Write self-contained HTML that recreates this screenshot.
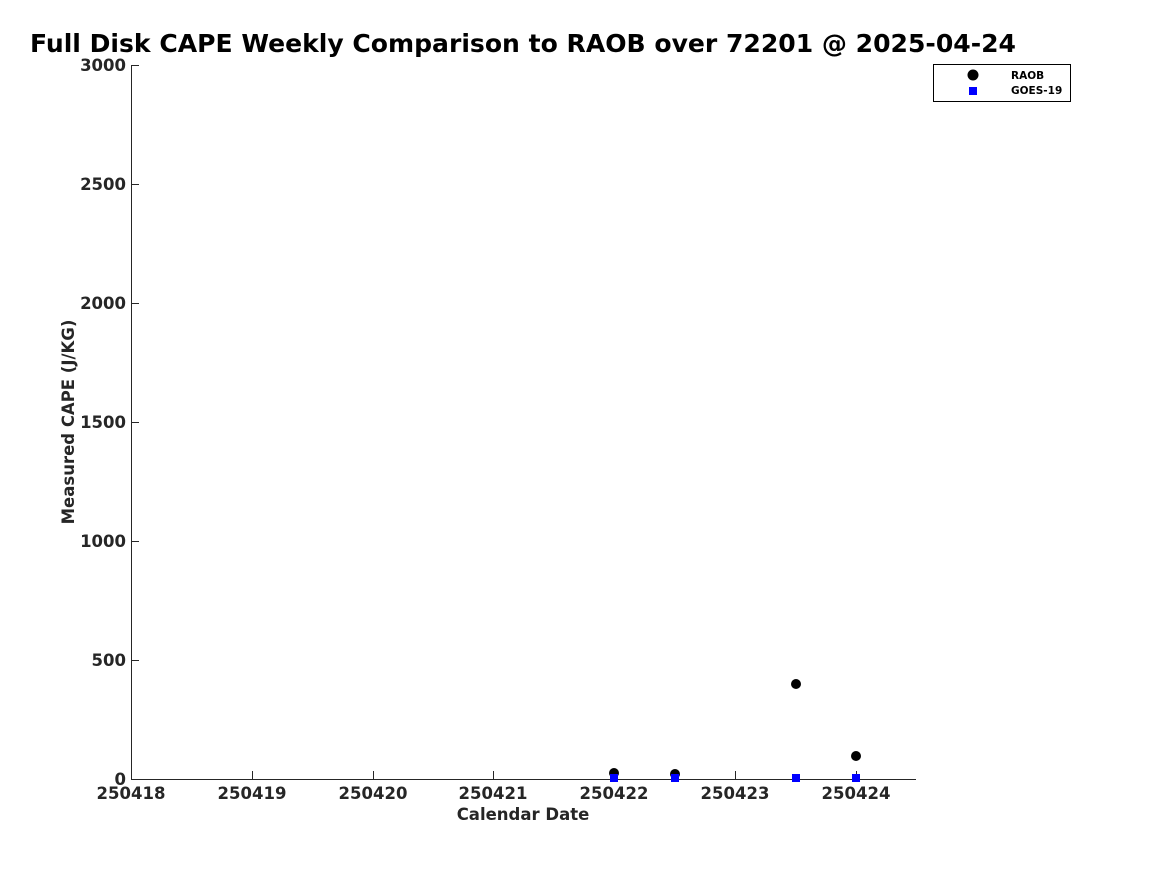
<!DOCTYPE html>
<html><head><style>body{margin:0;background:#fff}</style></head><body>
<svg width="1167" height="875" xmlns="http://www.w3.org/2000/svg" font-family="DejaVu Sans, Liberation Sans, sans-serif" font-weight="bold">
<text x="30" y="52" font-size="25" fill="#000" textLength="986" lengthAdjust="spacingAndGlyphs">Full Disk CAPE Weekly Comparison to RAOB over 72201 @ 2025-04-24</text>
<g stroke="#262626" stroke-width="1" fill="none">
<line x1="131.5" y1="65" x2="131.5" y2="779.5"/>
<line x1="131" y1="779.5" x2="916" y2="779.5"/>
<line x1="131" y1="65.5" x2="139" y2="65.5"/>
<line x1="131" y1="184.5" x2="139" y2="184.5"/>
<line x1="131" y1="303.5" x2="139" y2="303.5"/>
<line x1="131" y1="422.5" x2="139" y2="422.5"/>
<line x1="131" y1="541.5" x2="139" y2="541.5"/>
<line x1="131" y1="660.5" x2="139" y2="660.5"/>
<line x1="252.5" y1="779" x2="252.5" y2="771"/>
<line x1="373.5" y1="779" x2="373.5" y2="771"/>
<line x1="493.5" y1="779" x2="493.5" y2="771"/>
<line x1="614.5" y1="779" x2="614.5" y2="771"/>
<line x1="735.5" y1="779" x2="735.5" y2="771"/>
<line x1="856.5" y1="779" x2="856.5" y2="771"/>
</g>
<g font-size="16.5" fill="#262626" text-anchor="end">
<text x="126" y="71">3000</text><text x="126" y="190">2500</text><text x="126" y="309">2000</text>
<text x="126" y="428">1500</text><text x="126" y="547">1000</text><text x="126" y="666">500</text><text x="126" y="785">0</text>
</g>
<g font-size="16.5" fill="#262626" text-anchor="middle">
<text x="131" y="799">250418</text><text x="252" y="799">250419</text><text x="373" y="799">250420</text>
<text x="493" y="799">250421</text><text x="614" y="799">250422</text><text x="735" y="799">250423</text><text x="856" y="799">250424</text>
<text x="523" y="820">Calendar Date</text>
<text transform="translate(74,422) rotate(-90)">Measured CAPE (J/KG)</text>
</g>
<g fill="#000">
<circle cx="614" cy="773" r="5"/><circle cx="675" cy="774" r="5"/><circle cx="796" cy="684" r="5"/><circle cx="856" cy="756" r="5"/>
</g>
<g fill="#0000ff">
<rect x="610" y="774" width="8" height="8"/><rect x="671" y="774" width="8" height="8"/><rect x="792" y="774" width="8" height="8"/><rect x="852" y="774" width="8" height="8"/>
</g>
<rect x="933.5" y="64.5" width="137" height="37" fill="#fff" stroke="#000"/>
<circle cx="973" cy="75" r="5.5" fill="#000"/>
<rect x="969" y="87" width="8" height="8" fill="#0000ff"/>
<text x="1011" y="79" font-size="10.5" fill="#000">RAOB</text>
<text x="1011" y="94" font-size="10.5" fill="#000">GOES-19</text>
</svg>
</body></html>
